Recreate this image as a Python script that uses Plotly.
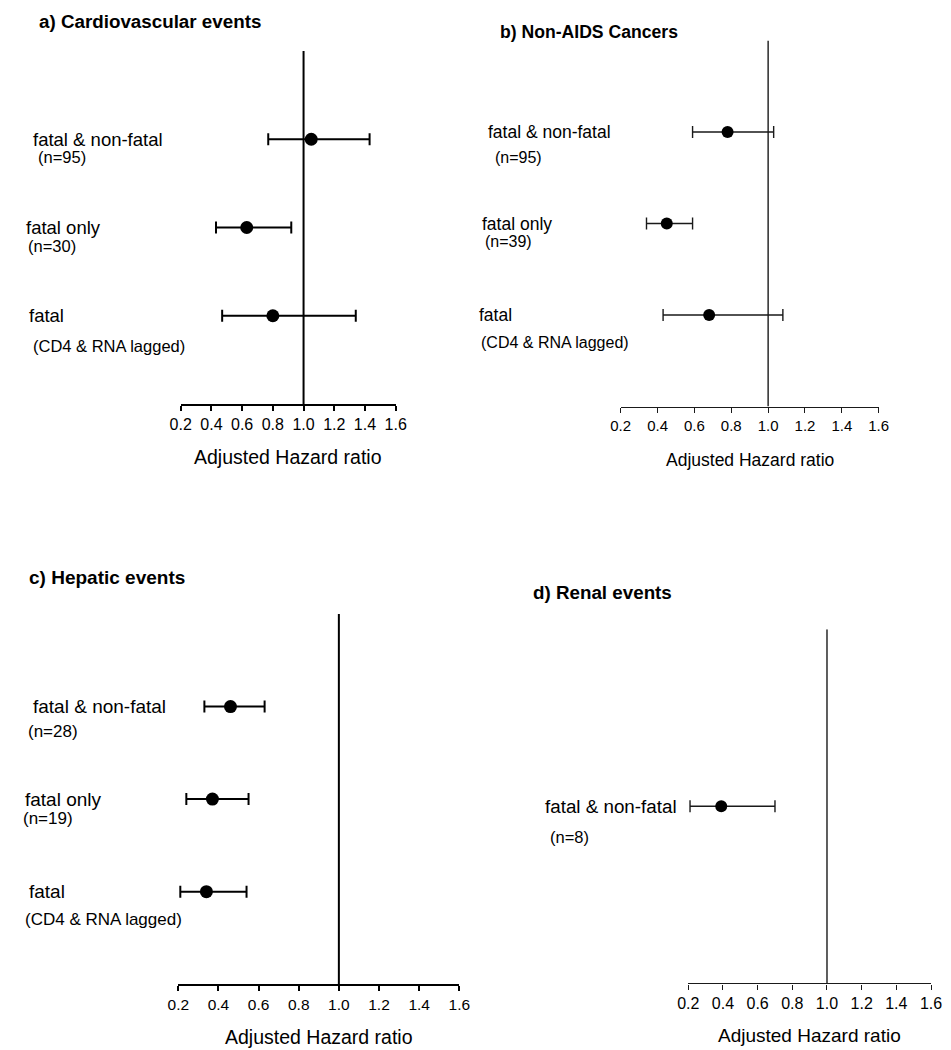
import plotly.graph_objects as go

# ---------------- data ----------------
tick_vals = [0.2, 0.4, 0.6, 0.8, 1.0, 1.2, 1.4, 1.6]
tick_text = ["0.2", "0.4", "0.6", "0.8", "1.0", "1.2", "1.4", "1.6"]
axis_title = "Adjusted Hazard ratio"

titles = ["a) Cardiovascular events", "b) Non-AIDS Cancers", "c) Hepatic events", "d) Renal events"]

a_labels = ["fatal & non-fatal", "fatal only", "fatal"]
a_sub = ["(n=95)", "(n=30)", "(CD4 & RNA lagged)"]
a_hr = [1.05, 0.63, 0.80]
a_lo = [0.77, 0.43, 0.47]
a_hi = [1.43, 0.92, 1.34]

b_labels = ["fatal & non-fatal", "fatal only", "fatal"]
b_sub = ["(n=95)", "(n=39)", "(CD4 & RNA lagged)"]
b_hr = [0.78, 0.45, 0.68]
b_lo = [0.59, 0.34, 0.43]
b_hi = [1.03, 0.59, 1.08]

c_labels = ["fatal & non-fatal", "fatal only", "fatal"]
c_sub = ["(n=28)", "(n=19)", "(CD4 & RNA lagged)"]
c_hr = [0.46, 0.37, 0.34]
c_lo = [0.33, 0.24, 0.21]
c_hi = [0.63, 0.55, 0.54]

d_labels = ["fatal & non-fatal"]
d_sub = ["(n=8)"]
d_hr = [0.39]
d_lo = [0.21]
d_hi = [0.70]

rows3 = [3, 2, 1]
rows1 = [2]
ref_value = 1.0

# ---------------- layout helpers ----------------
PAGE_W, PAGE_H = 951, 1050
OFF = 8  # default page body margin
W, H = PAGE_W - OFF, PAGE_H - OFF
FONT = "Liberation Sans, Arial, sans-serif"


def px(x):
    return (x - OFF) / W


def py(y):
    return 1 - (y - OFF) / H


panels = [
    dict(hr=a_hr, lo=a_lo, hi=a_hi, rows=rows3, labels=a_labels, sub=a_sub,
         xd=(180.7, 395.7), yd=(404.0, 51.0), lw=2, col="#000000", ms=13,
         title=titles[0], tpos=(37, 21), tsize=18.8,
         lab_x=[31, 24, 27], sub_x=[36, 26, 31], sub_dy=[18, 18, 30],
         lsize=18.5, ssize=16.5, ticksize=16, atsize=19.5, at_y=457),
    dict(hr=b_hr, lo=b_lo, hi=b_hi, rows=rows3, labels=b_labels, sub=b_sub,
         xd=(620.7, 878.7), yd=(406.5, 40.5), lw=1.4, col="#1a1a1a", ms=12,
         title=titles[1], tpos=(498, 32), tsize=17.6,
         lab_x=[486, 480, 477], sub_x=[493, 483, 479], sub_dy=[25, 18, 27],
         lsize=17.5, ssize=16, ticksize=15, atsize=17.5, at_y=460),
    dict(hr=c_hr, lo=c_lo, hi=c_hi, rows=rows3, labels=c_labels, sub=c_sub,
         xd=(178.3, 459.3), yd=(984.2, 614.0), lw=2, col="#000000", ms=13,
         title=titles[2], tpos=(27, 577), tsize=19,
         lab_x=[31, 23, 27], sub_x=[26, 21, 23], sub_dy=[25, 19, 28],
         lsize=19, ssize=17, ticksize=15.5, atsize=19.5, at_y=1036.7),
    dict(hr=d_hr, lo=d_lo, hi=d_hi, rows=rows1, labels=d_labels, sub=d_sub,
         xd=(688.3, 931.0), yd=(983.3, 629.3), lw=1.4, col="#1a1a1a", ms=12,
         title=titles[3], tpos=(531, 592), tsize=18.8,
         lab_x=[543], sub_x=[548], sub_dy=[31],
         lsize=18.8, ssize=16.5, ticksize=16, atsize=19, at_y=1035),
]

fig = go.Figure()
annotations = []
shapes = []
layout_axes = {}

for i, p in enumerate(panels):
    k = "" if i == 0 else str(i + 1)
    xa, ya = "x" + k, "y" + k
    plus = [h - v for h, v in zip(p["hi"], p["hr"])]
    minus = [v - l for v, l in zip(p["hr"], p["lo"])]
    fig.add_trace(go.Scatter(
        x=p["hr"], y=p["rows"], mode="markers", xaxis=xa, yaxis=ya,
        marker=dict(symbol="circle", size=p["ms"], color="#000000"),
        error_x=dict(type="data", symmetric=False, array=plus, arrayminus=minus,
                     color=p["col"], thickness=p["lw"], width=6),
        showlegend=False, hoverinfo="skip", cliponaxis=False,
    ))
    layout_axes["xaxis" + k] = dict(
        domain=[px(p["xd"][0]), px(p["xd"][1])], anchor=ya,
        range=[0.2, 1.6], tickvals=tick_vals, ticktext=tick_text,
        showline=True, linecolor=p["col"], linewidth=p["lw"],
        ticks="outside", ticklen=5, tickwidth=p["lw"], tickcolor=p["col"],
        showgrid=False, zeroline=False, fixedrange=True, automargin=False,
        tickfont=dict(family=FONT, size=p["ticksize"], color="#000000"),
    )
    layout_axes["yaxis" + k] = dict(
        domain=[py(p["yd"][0]), py(p["yd"][1])], anchor=xa,
        range=[0, 4], visible=False, fixedrange=True, automargin=False,
    )
    shapes.append(dict(type="line", xref=xa, yref=ya, x0=ref_value, x1=ref_value,
                       y0=0, y1=4, line=dict(color=p["col"], width=p["lw"])))
    annotations.append(dict(text="<b>" + p["title"] + "</b>", xref="paper", yref="paper",
                            x=px(p["tpos"][0]), y=py(p["tpos"][1]), xanchor="left",
                            yanchor="middle", showarrow=False,
                            font=dict(family=FONT, size=p["tsize"], color="#000000")))
    annotations.append(dict(text=axis_title, xref="paper", yref="paper",
                            x=px((p["xd"][0] + p["xd"][1]) / 2), y=py(p["at_y"]),
                            xanchor="center", yanchor="middle", showarrow=False,
                            font=dict(family=FONT, size=p["atsize"], color="#000000")))
    for j, r in enumerate(p["rows"]):
        annotations.append(dict(text=p["labels"][j], xref="paper", yref=ya,
                                x=px(p["lab_x"][j]), y=r, xanchor="left", yanchor="middle",
                                showarrow=False,
                                font=dict(family=FONT, size=p["lsize"], color="#000000")))
        annotations.append(dict(text=p["sub"][j], xref="paper", yref=ya,
                                x=px(p["sub_x"][j]), y=r, yshift=-p["sub_dy"][j],
                                xanchor="left", yanchor="middle", showarrow=False,
                                font=dict(family=FONT, size=p["ssize"], color="#000000")))

fig.update_layout(
    template="none",
    width=W, height=H, autosize=False,
    margin=dict(l=0, r=0, t=0, b=0, pad=0, autoexpand=False),
    font=dict(family=FONT, color="#000000"),
    paper_bgcolor="white", plot_bgcolor="white",
    annotations=annotations, shapes=shapes, showlegend=False,
    **layout_axes,
)

fig.write_html("out.html")
